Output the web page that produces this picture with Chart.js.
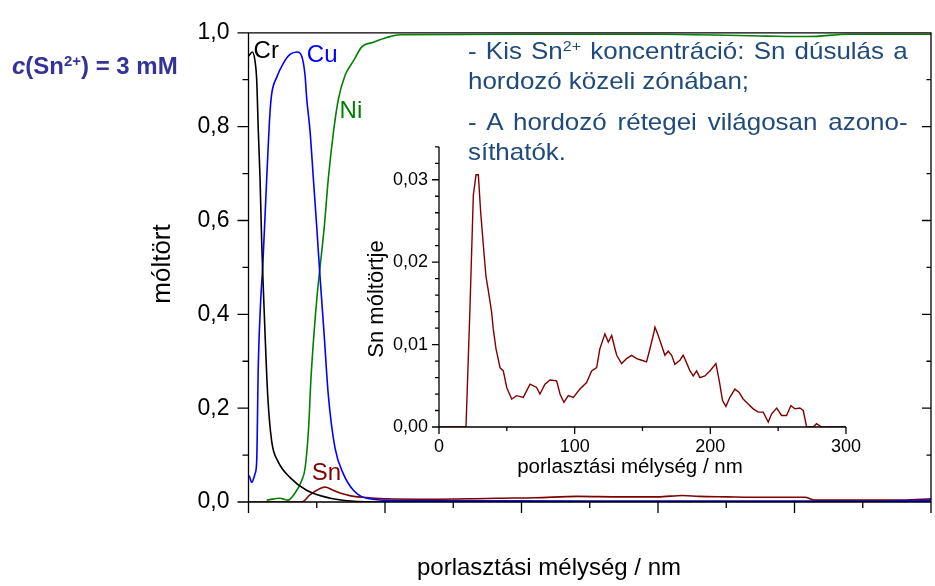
<!DOCTYPE html>
<html lang="hu">
<head>
<meta charset="utf-8">
<title>Sn móltört – porlasztási mélység</title>
<script src="https://cdn.jsdelivr.net/npm/chart.js@4.4.1/dist/chart.umd.min.js"></script>
<style>
  html, body { margin: 0; padding: 0; background: #fff; }
  #wrap { position: relative; width: 935px; height: 586px; overflow: hidden; font-family: "Liberation Sans", Arial, sans-serif; }
  #main { position: absolute; left: 0; top: 0; }
  #inset { position: absolute; left: 340px; top: 125px; }
  .conc { position: absolute; left: 12px; top: 52px; font-weight: bold; font-size: 24px; color: #333399; white-space: nowrap; }
  .note { position: absolute; left: 468px; top: 36px; width: 407px; font-size: 24px; line-height: 30px; color: #1F4A7A; text-align: justify; transform: scaleX(1.08); transform-origin: 0 0; }
  .note p { margin: 0 0 11px 0; }
  sup { font-size: 0.62em; position: relative; top: -0.55em; vertical-align: baseline; line-height: 0; }
</style>
</head>
<body>
<div id="wrap">
  <canvas id="main" width="935" height="586"></canvas>
  <canvas id="inset" width="530" height="360"></canvas>
  <div class="conc"><i>c</i>(Sn<sup>2+</sup>) = 3 mM</div>
  <div class="note">
    <p>- Kis Sn<sup>2+</sup> koncentráció: Sn dúsulás a hordozó közeli zónában;</p>
    <p>- A hordozó rétegei világosan azono-síthatók.</p>
  </div>
</div>
<script>
// ---------------------------------------------------------------------------
// Data: mole fraction vs sputter depth (nm)
// ---------------------------------------------------------------------------
const crDepth = [0, 2, 5.6, 9.5, 12, 14.4, 16.9, 19.4, 20.8, 24.2, 28.2, 34, 43, 61, 85, 120, 150, 200, 1000];
const crFrac  = [0.95, 0.954, 0.959, 0.94, 0.90, 0.79, 0.69, 0.55, 0.49, 0.36, 0.226, 0.129, 0.087, 0.052, 0.025, 0.008, 0.002, 0, 0];

const cuDepth = [0, 0.7, 4.7, 9.5, 12, 14.4, 17.9, 20.8, 26.7, 31.5, 34, 41.3, 51, 60.8, 71.6, 78, 82.8, 85.3, 90.2, 95, 100, 104.8, 110.7, 117, 126.8, 139, 153.7, 173, 222, 500, 900, 1000];
const cuFrac  = [0.055, 0.056, 0.042, 0.06, 0.087, 0.295, 0.43, 0.50, 0.69, 0.83, 0.87, 0.905, 0.935, 0.954, 0.959, 0.95, 0.91, 0.86, 0.79, 0.69, 0.586, 0.48, 0.36, 0.227, 0.115, 0.06, 0.025, 0.008, 0.003, 0.002, 0.002, 0.004];

const niDepth = [26.7, 46, 58, 68, 78, 83, 88, 91.4, 96, 101, 104.8, 111, 117, 124.6, 131.9, 141.7, 153.7, 166, 183, 202.8, 222.4, 400, 600, 760, 820, 880, 1000];
const niFrac  = [0.004, 0.008, 0.004, 0.019, 0.046, 0.073, 0.156, 0.26, 0.36, 0.447, 0.50, 0.586, 0.69, 0.79, 0.86, 0.91, 0.94, 0.97, 0.98, 0.99, 0.996, 0.997, 0.997, 0.993, 0.992, 0.997, 0.997];

const snDepth = [0, 78, 90, 100, 112, 124, 134, 150, 168, 200, 266, 330, 365, 420, 482, 545, 600, 636, 660, 700, 760, 815, 830, 900, 960, 1000];
const snFrac  = [0, 0, 0.015, 0.025, 0.032, 0.025, 0.019, 0.013, 0.010, 0.007, 0.006, 0.007, 0.008, 0.009, 0.012, 0.011, 0.011, 0.014, 0.012, 0.011, 0.010, 0.010, 0.004, 0.004, 0.004, 0.007];

// inset: Sn only, first 300 nm
const snInDepth = [0, 19.9, 22.8, 25.3, 27.3, 29, 30.7, 32.6, 34.6, 36.3, 38.8, 40, 42, 45, 47.4, 49.9, 53.6, 57.3, 62.1, 67.1, 72, 74.4, 78.1, 81.8, 86.7, 89.2, 92.1, 95.3, 99, 103.9, 108.8, 112.5, 116.2, 118.6,
  122.3, 124.8, 127.3, 129.7, 131, 134.6, 138.3, 142, 145.7, 149.4, 153, 155.5, 157.9, 159.2, 161.6, 164.1, 166.5, 169, 171.5, 173.9, 177.6, 180, 183, 185, 187.4, 189.9, 192.3, 196, 199.7, 204.1,
  206.6, 209, 211.5, 214.4, 218.1, 221.3, 224.2, 227.9, 231.6, 235.3, 239, 242.7, 245.2, 248.9, 252.5, 256.2, 259.4, 262.3, 266, 268.5, 271, 275.8, 278.3, 282, 300];
const snInFrac = [0, 0, 0.0143, 0.0281, 0.0306, 0.0306, 0.0261, 0.0222, 0.0183, 0.0166, 0.0139, 0.0119, 0.0095, 0.0072, 0.0068, 0.0048, 0.0034, 0.0038, 0.0036, 0.0052, 0.0048, 0.004, 0.0052, 0.0057, 0.0056, 0.004, 0.003, 0.0038, 0.0036, 0.0046, 0.0054, 0.0068, 0.0072, 0.0095,
  0.0113, 0.0103, 0.0111, 0.0095, 0.0087, 0.0077, 0.0083, 0.0087, 0.0083, 0.0081, 0.0079, 0.0095, 0.0111, 0.0121, 0.0111, 0.0099, 0.0087, 0.0092, 0.0087, 0.0076, 0.0081, 0.0087, 0.0076, 0.0068, 0.0062, 0.0068, 0.006, 0.0062, 0.0068, 0.0077,
  0.0056, 0.0032, 0.0025, 0.0036, 0.0046, 0.0042, 0.0034, 0.0028, 0.0022, 0.0018, 0.0018, 0.0006, 0.0016, 0.0023, 0.0014, 0.0014, 0.0026, 0.0022, 0.0023, 0.002, 0, 0, 0.0004, 0, 0];

const pts = (xs, ys) => xs.map((x, i) => ({ x, y: ys[i] }));

const FONT = '"Liberation Sans", Arial, sans-serif';
Chart.defaults.font.family = FONT;
Chart.defaults.color = "#000";

// ---------------------------------------------------------------------------
// Plugins: Origin-style axes with major/minor ticks, free text
// (settings are captured in closures, not passed through chart options)
// ---------------------------------------------------------------------------
function axesFrame(o) {
  return {
    id: "axesFrame",
    afterDatasetsDraw(chart) {
      const { ctx, chartArea: a, scales: { x, y } } = chart;
      ctx.save();
      ctx.strokeStyle = "#000";
      ctx.lineWidth = 1.3;
      ctx.beginPath();
      if (o.box) {
        ctx.rect(a.left, a.top, a.right - a.left, a.bottom - a.top);
      } else {
        ctx.moveTo(a.left, a.top);
        ctx.lineTo(a.left, a.bottom);
        ctx.lineTo(a.right, a.bottom);
      }
      const nx = Math.round((x.max - x.min) / o.xStep);
      for (let i = 0; i <= nx; i++) {
        const px = x.getPixelForValue(x.min + i * o.xStep);
        const len = i % o.xEvery === 0 ? o.major : o.minor;
        ctx.moveTo(px, a.bottom);
        ctx.lineTo(px, a.bottom + len);
      }
      const ny = Math.floor((y.max - y.min) / o.yStep + 1e-6);
      for (let i = 0; i <= ny; i++) {
        const py = y.getPixelForValue(y.min + i * o.yStep);
        const major = i % o.yEvery === 0;
        ctx.moveTo(a.left, py);
        ctx.lineTo(a.left - (major ? o.major : o.minor), py);
        if (o.box) {
          ctx.moveTo(a.right, py);
          ctx.lineTo(a.right - (major ? o.rMajor : o.rMinor), py);
        }
      }
      ctx.stroke();
      ctx.restore();
    }
  };
}

// items: {text, size, color, rotate, data:[x,y]} placed by the scales, or {pos:[px,py]} in canvas pixels
function freeText(items) {
  return {
    id: "freeText",
    afterDraw(chart) {
      const { ctx, scales: { x, y } } = chart;
      ctx.save();
      ctx.textAlign = "center";
      ctx.textBaseline = "middle";
      for (const t of items) {
        ctx.font = `${t.size}px ${FONT}`;
        ctx.fillStyle = t.color || "#000";
        const cx = t.data ? x.getPixelForValue(t.data[0]) : t.pos[0];
        const cy = t.data ? y.getPixelForValue(t.data[1]) : t.pos[1];
        ctx.save();
        ctx.translate(cx, cy);
        if (t.rotate) ctx.rotate(t.rotate);
        ctx.fillText(t.text, 0, 0);
        ctx.restore();
      }
      ctx.restore();
    }
  };
}

// ---------------------------------------------------------------------------
// Main chart
// ---------------------------------------------------------------------------
const line = (data, color) => ({
  data, borderColor: color, borderWidth: 1.6, pointRadius: 0,
  cubicInterpolationMode: "monotone"
});

new Chart(document.getElementById("main"), {
  type: "line",
  data: {
    datasets: [
      line(pts(crDepth, crFrac), "#000000"),
      line(pts(cuDepth, cuFrac), "#0000FF"),
      line(pts(niDepth, niFrac), "#008000"),
      line(pts(snDepth, snFrac), "#800000")
    ]
  },
  options: {
    responsive: false,
    animation: false,
    events: [],
    layout: { padding: { top: 21, right: 4, left: 0, bottom: 0 } },
    plugins: { legend: { display: false }, tooltip: { enabled: false } },
    scales: {
      x: {
        type: "linear", min: 0, max: 1000,
        grid: { display: false, drawTicks: false },
        border: { display: false },
        ticks: { display: false },
        afterFit: s => { s.height = 84; }
      },
      y: {
        min: 0, max: 1,
        grid: { display: false, drawTicks: false },
        border: { display: false },
        ticks: { stepSize: 0.2, padding: 19, font: { size: 23 }, color: "#000", callback: v => v.toFixed(1).replace(".", ",") },
        afterFit: s => { s.width = 248.5; }
      }
    }
  },
  plugins: [
    axesFrame({ box: true, xStep: 100, xEvery: 2, yStep: 0.1, yEvery: 2, major: 11, minor: 6, rMajor: 9, rMinor: 4.5 }),
    freeText([
      { text: "Cr", data: [26, 0.96], size: 24, color: "#000000" },
      { text: "Cu", data: [108, 0.952], size: 24, color: "#0000FF" },
      { text: "Ni", data: [150, 0.832], size: 24, color: "#008000" },
      { text: "Sn", data: [114, 0.062], size: 24, color: "#800000" },
      { text: "móltört", pos: [163, 264], size: 26, rotate: -Math.PI / 2 },
      { text: "porlasztási mélység / nm", pos: [549, 568], size: 24 }
    ])
  ]
});

// ---------------------------------------------------------------------------
// Inset: Sn mole fraction, first 300 nm
// ---------------------------------------------------------------------------
new Chart(document.getElementById("inset"), {
  type: "line",
  data: {
    datasets: [
      { data: pts(snInDepth, snInFrac), borderColor: "#800000", borderWidth: 1.4, pointRadius: 0, tension: 0 }
    ]
  },
  options: {
    responsive: false,
    animation: false,
    events: [],
    layout: { padding: { top: 15.7, right: 24, left: 0, bottom: 0 } },
    plugins: { legend: { display: false }, tooltip: { enabled: false } },
    scales: {
      x: {
        type: "linear", min: 0, max: 300,
        grid: { display: false, drawTicks: false },
        border: { display: false },
        ticks: { stepSize: 100, autoSkip: false, maxRotation: 0, padding: 9, font: { size: 18 }, color: "#000" },
        afterFit: s => { s.height = 58; }
      },
      y: {
        min: 0, max: 0.034,
        grid: { display: false, drawTicks: false },
        border: { display: false },
        ticks: { stepSize: 0.01, includeBounds: false, padding: 11, font: { size: 18 }, color: "#000", callback: v => v.toFixed(2).replace(".", ",") },
        afterFit: s => { s.width = 99; }
      }
    }
  },
  plugins: [
    axesFrame({ box: false, xStep: 50, xEvery: 2, yStep: 0.002, yEvery: 5, major: 7, minor: 4 }),
    freeText([
      { text: "Sn móltörtje", pos: [37, 174], size: 22, rotate: -Math.PI / 2 },
      { text: "porlasztási mélység / nm", pos: [290, 342], size: 20.5 }
    ])
  ]
});
</script>
</body>
</html>
